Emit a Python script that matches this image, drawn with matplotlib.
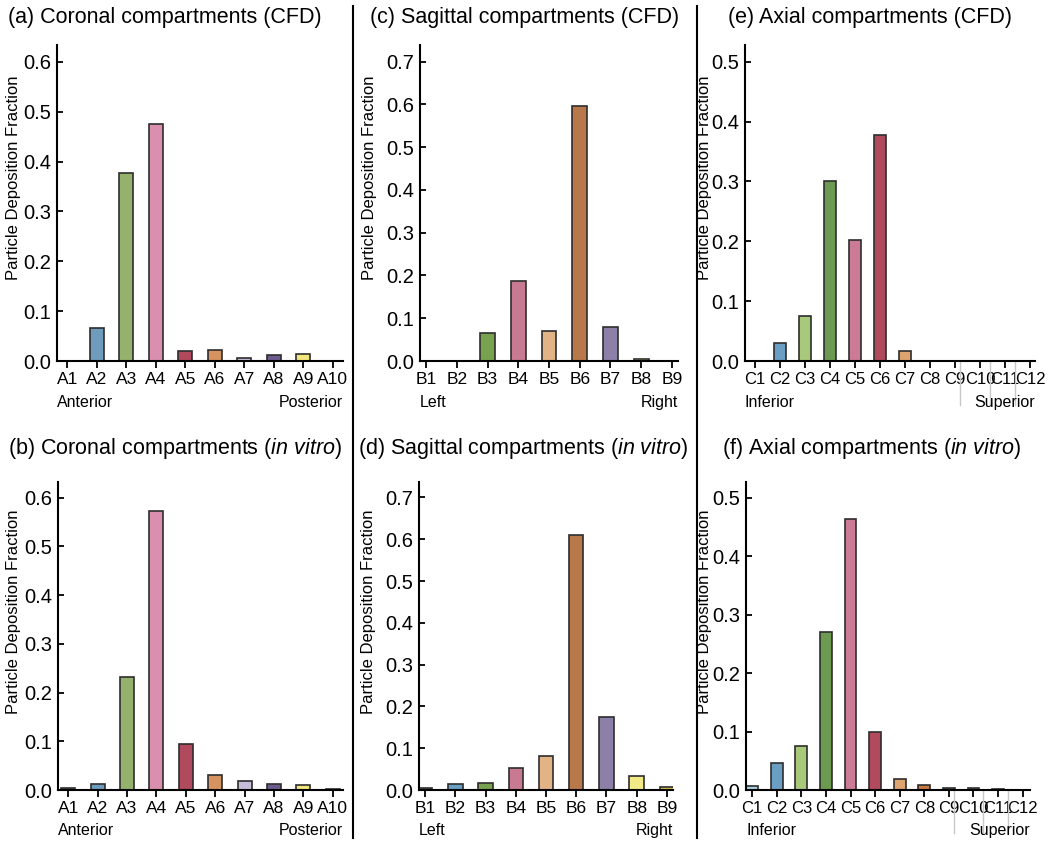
import matplotlib
matplotlib.use("Agg")
import matplotlib.pyplot as plt
from matplotlib.lines import Line2D
import matplotlib.transforms as mtransforms

plt.rcParams['font.family'] = ['Liberation Sans', 'DejaVu Sans']
plt.rcParams['mathtext.fontset'] = 'custom'
plt.rcParams['mathtext.rm'] = 'Liberation Sans'
plt.rcParams['mathtext.it'] = 'Liberation Sans:italic'

# ---- data ----
coronal_labels = ['A%d' % i for i in range(1, 11)]
coronal_cfd = [0.0, 0.066, 0.378, 0.476, 0.020, 0.022, 0.007, 0.013, 0.015, 0.0]
coronal_vitro = [0.004, 0.013, 0.231, 0.573, 0.094, 0.030, 0.019, 0.012, 0.010, 0.002]
coronal_colors = ['#5f6b73', '#6f9bbd', '#94b26c', '#d98fad', '#b04a5c',
                  '#d6925f', '#c7bddb', '#6b5b8f', '#f3e67c', '#8a7d30']

sagittal_labels = ['B%d' % i for i in range(1, 10)]
sagittal_cfd = [0.0, 0.0, 0.066, 0.187, 0.069, 0.597, 0.080, 0.004, 0.0]
sagittal_vitro = [0.005, 0.014, 0.017, 0.052, 0.081, 0.611, 0.175, 0.034, 0.007]
sagittal_colors = ['#6a7378', '#6b9ec4', '#78a24e', '#c97a93', '#e2b384',
                   '#b9784a', '#8c80a8', '#f2ea86', '#d9c040']

axial_labels = ['C%d' % i for i in range(1, 13)]
axial_cfd = [0.0, 0.030, 0.076, 0.301, 0.202, 0.378, 0.017, 0.0, 0.0, 0.0, 0.0, 0.0]
axial_vitro = [0.006, 0.046, 0.075, 0.271, 0.464, 0.100, 0.018, 0.009, 0.004, 0.003, 0.002, 0.0]
axial_colors = ['#a9d3e3', '#6b9ec3', '#a8c87a', '#6c9a50', '#cc7b97', '#b04a5c',
                '#dda470', '#c77a3f', '#6d6d6d', '#777777', '#8a8070', '#aaaaaa']

W, H = 1050, 846
fig = plt.figure(figsize=(W / 100, H / 100), dpi=100)


def px_axes(left, right, top, bottom):
    return fig.add_axes([left / W, 1 - bottom / H, (right - left) / W, (bottom - top) / H])


panels = [
    dict(rect=(57, 343, 45, 361), labels=coronal_labels, vals=coronal_cfd, colors=coronal_colors,
         xlim=(-0.35, 9.35), ymax=0.634, yt=[0, 0.1, 0.2, 0.3, 0.4, 0.5, 0.6],
         ends=('Anterior', 'Posterior'), ylx=-0.125,
         title='(a) Coronal compartments (CFD)', tpos=(8, 17)),
    dict(rect=(58, 343, 482, 790), labels=coronal_labels, vals=coronal_vitro, colors=coronal_colors,
         xlim=(-0.35, 9.35), ymax=0.632, yt=[0, 0.1, 0.2, 0.3, 0.4, 0.5, 0.6],
         ends=('Anterior', 'Posterior'), ylx=-0.13,
         title=r'(b) Coronal compartments ($\mathit{in}$ $\mathit{vitro}$)', tpos=(8, 448)),
    dict(rect=(420, 678, 45, 361), labels=sagittal_labels, vals=sagittal_cfd, colors=sagittal_colors,
         xlim=(-0.2, 8.2), ymax=0.739, yt=[0, 0.1, 0.2, 0.3, 0.4, 0.5, 0.6, 0.7],
         ends=('Left', 'Right'), ylx=-0.167,
         title='(c) Sagittal compartments (CFD)', tpos=(370, 17)),
    dict(rect=(419, 673, 482, 790), labels=sagittal_labels, vals=sagittal_vitro, colors=sagittal_colors,
         xlim=(-0.2, 8.2), ymax=0.737, yt=[0, 0.1, 0.2, 0.3, 0.4, 0.5, 0.6, 0.7],
         ends=('Left', 'Right'), ylx=-0.17,
         title=r'(d) Sagittal compartments ($\mathit{in}$ $\mathit{vitro}$)', tpos=(358, 448)),
    dict(rect=(745, 1035, 45, 361), labels=axial_labels, vals=axial_cfd, colors=axial_colors,
         xlim=(-0.4, 11.2), ymax=0.528, yt=[0, 0.1, 0.2, 0.3, 0.4, 0.5],
         ends=('Inferior', 'Superior'), ylx=-0.114,
         title='(e) Axial compartments (CFD)', tpos=(728, 17)),
    dict(rect=(746, 1030, 482, 790), labels=axial_labels, vals=axial_vitro, colors=axial_colors,
         xlim=(-0.25, 11.3), ymax=0.527, yt=[0, 0.1, 0.2, 0.3, 0.4, 0.5],
         ends=('Inferior', 'Superior'), ylx=-0.12,
         title=r'(f) Axial compartments ($\mathit{in}$ $\mathit{vitro}$)', tpos=(722, 448)),
]

for p in panels:
    ax = px_axes(*p['rect'])
    x = list(range(len(p['labels'])))
    ax.bar(x, p['vals'], width=0.48, color=p['colors'], edgecolor='#2e2e2e', linewidth=1.2)
    ax.set_xlim(*p['xlim'])
    ax.set_ylim(0, p['ymax'])
    ax.set_xticks(x)
    ax.set_xticklabels(p['labels'])
    ax.set_yticks(p['yt'])
    ax.set_yticklabels(['%.1f' % v for v in p['yt']])
    for side in ('top', 'right'):
        ax.spines[side].set_visible(False)
    for side in ('left', 'bottom'):
        ax.spines[side].set_linewidth(1.5)
    xsize = 12 if p['labels'] is axial_labels else 12.5
    ax.tick_params(axis='x', direction='out', length=5, width=1.3, labelsize=xsize, pad=3)
    ax.tick_params(axis='y', direction='in', length=4, width=1.3, labelsize=14.5, pad=4)
    ax.set_ylabel('Particle Deposition Fraction', fontsize=12)
    ax.yaxis.set_label_coords(p['ylx'], 0.58)
    ax.text(0, -0.13, p['ends'][0], transform=ax.transAxes, ha='left', va='center', fontsize=11.5)
    ax.text(1.0, -0.13, p['ends'][1], transform=ax.transAxes, ha='right', va='center', fontsize=11.5)
    fig.text(p['tpos'][0] / W, 1 - p['tpos'][1] / H, p['title'], ha='left', va='center', fontsize=15.5)
    if p['labels'] is axial_labels:
        # faint grey marks below the last axial ticks, as in the original figure
        trans = mtransforms.blended_transform_factory(ax.transData, ax.transAxes)
        for xv in (8.2, 9.4, 10.4):
            ax.plot([xv, xv], [0, -0.14], color='#c8c8c8', lw=1, transform=trans, clip_on=False)

# vertical dividers between the columns
for xp in (353, 697):
    fig.add_artist(Line2D([xp / W, xp / W], [1 - 6 / H, 1 - 838 / H], color='black', lw=1.5))

fig.savefig('out.png', dpi=100, facecolor='white')
